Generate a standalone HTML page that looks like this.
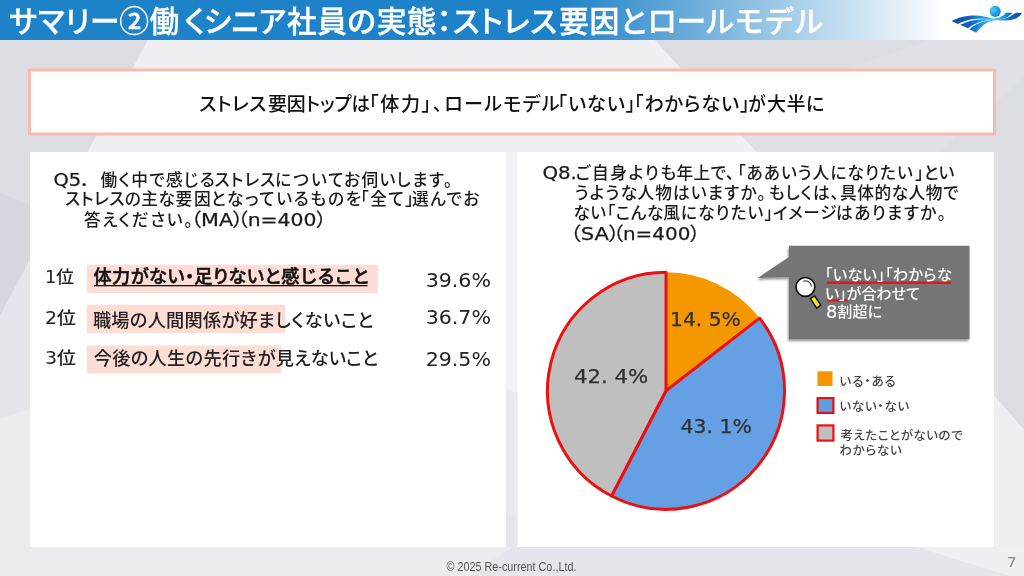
<!DOCTYPE html>
<html lang="ja">
<head>
<meta charset="utf-8">
<title>サマリー②働くシニア社員の実態：ストレス要因とロールモデル</title>
<style>
html,body{margin:0;padding:0;background:#e8e7ed;}
body{width:1024px;height:576px;overflow:hidden;position:relative;}
svg{position:absolute;left:0;top:0;display:block;}
text,tspan{font-family:"Liberation Sans","Noto Sans CJK JP",sans-serif;font-feature-settings:"palt" 1;font-kerning:normal;white-space:pre;}
.lat{font-family:"DejaVu Sans","Liberation Sans","Noto Sans CJK JP",sans-serif;}
.title{font-size:29.8px;font-weight:500;fill:#fff;stroke:#fff;stroke-width:0.35px;}
.sub{font-size:19.1px;font-weight:500;fill:#111;}
.q{font-size:16.7px;font-weight:500;fill:#1a1a1a;}
.ql{font-size:18.4px;font-weight:400;fill:#1a1a1a;stroke:#1a1a1a;stroke-width:0.25px;}
.rank{font-size:17.5px;font-weight:500;fill:#222;}
.row{font-size:18.2px;font-weight:500;fill:#222;}
.rowb{font-size:18.2px;fill:#111;font-weight:500;stroke:#111;stroke-width:0.5px;}
.pct{font-size:20px;fill:#222;}
.pie{font-size:19.8px;fill:#303030;stroke:#303030;stroke-width:0.25px;}
.call{font-size:15.2px;font-weight:500;fill:#fff;}
.leg{font-size:12.4px;font-weight:500;fill:#444;}
.foot{font-size:12.6px;fill:#555;font-feature-settings:normal;}
.pg{font-size:14px;fill:#888;}
.call8{font-size:17px;fill:#fff;stroke:#fff;stroke-width:0.2px;}

</style>
</head>
<body>
<svg width="1024" height="576" viewBox="0 0 1024 576">
<defs>
<linearGradient id="hd" gradientUnits="userSpaceOnUse" x1="0" y1="0" x2="1024" y2="0">
<stop offset="0" stop-color="#1e82c8"/>
<stop offset="0.547" stop-color="#1e82c8"/>
<stop offset="0.923" stop-color="#ffffff"/>
<stop offset="1" stop-color="#ffffff"/>
</linearGradient>
<linearGradient id="lg1" gradientUnits="userSpaceOnUse" x1="100" y1="0" x2="995" y2="0">
<stop offset="0" stop-color="#0a4fb0"/>
<stop offset="0.25" stop-color="#0e62c0"/>
<stop offset="0.47" stop-color="#2aa6e8"/>
<stop offset="0.6" stop-color="#45c6f4"/>
<stop offset="0.72" stop-color="#2aa0e4"/>
<stop offset="0.86" stop-color="#0e60bf"/>
<stop offset="1" stop-color="#0a4fb0"/>
</linearGradient>
<radialGradient id="ball" cx="0.3" cy="0.35" r="0.8">
<stop offset="0" stop-color="#4fcaf3"/>
<stop offset="0.5" stop-color="#22a6e6"/>
<stop offset="1" stop-color="#0a80d4"/>
</radialGradient>
<filter id="sh" x="-10%" y="-10%" width="125%" height="130%">
<feGaussianBlur in="SourceAlpha" stdDeviation="1.3"/>
<feOffset dx="-1.3" dy="2"/>
<feComponentTransfer><feFuncA type="linear" slope="0.4"/></feComponentTransfer>
<feMerge><feMergeNode/><feMergeNode in="SourceGraphic"/></feMerge>
</filter>
</defs>

<!-- background -->
<rect x="0" y="0" width="1024" height="576" fill="#e6e5eb"/>
<polygon points="0,40 148,40 0,315" fill="#dcdde3"/>
<polygon points="0,193 30,204.5 30,259 0,315" fill="#d6d7df"/>
<polygon points="148,40 655,40 770,160 83,160" fill="#f0eff3"/>
<polygon points="655,40 1024,40 1024,430 994,395 994,152 757,152" fill="#dcdde3"/>
<polygon points="994,395 1024,430 1024,576 994,576" fill="#efeef2"/>
<polygon points="0,419 30,409 30,547 1024,547 1024,576 0,576" fill="#ecebf0"/>
<polygon points="512,547 917,547 1010,576 470,576" fill="#e6e5eb"/>
<polygon points="917,547 1024,547 1024,576 1010,576" fill="#f0eff3"/>
<polygon points="931,40 1024,40 1024,77.5 938,152 757,152 720,111.3" fill="#e0e0e6"/>
<polygon points="994,152 998.5,152 998.5,400 994,395" fill="#e0e0e7"/>

<rect x="505" y="152" width="13.5" height="240" fill="#f2f1f5"/>
<polygon points="505,388 518.5,394 518.5,515 505,515" fill="#eae9ee"/>
<rect x="505" y="515" width="13.5" height="32" fill="#e6e5eb"/>

<!-- header -->
<rect x="0" y="0" width="1024" height="40" fill="url(#hd)"/>

<!-- logo -->
<g id="logo" transform="translate(944,0) scale(0.078125)">
<circle cx="655" cy="145" r="71" fill="url(#ball)"/>
<g fill="url(#lg1)">
<path d="M98,268 C200,212 330,192 420,198 C500,204 560,222 620,236 L620,250 C560,246 480,236 420,240 C330,246 250,270 176,308 Z"/>
<path d="M208,316 C290,274 380,252 460,248 C520,246 570,248 620,246 L620,256 C570,258 520,264 480,276 C410,298 352,328 305,360 Z"/>
<path d="M326,374 C380,322 450,292 510,276 C560,264 600,258 640,250 L655,260 C615,266 580,274 550,292 C495,322 450,368 412,420 Z"/>
<path d="M620,236 C680,238 720,222 750,202 C770,188 780,176 790,164 L878,164 C856,180 840,198 820,214 C785,238 720,254 655,260 L620,256 Z"/>
<path d="M700,250 C780,246 830,222 870,196 C895,178 910,170 922,163 L998,166 C978,196 952,226 902,244 C852,260 780,266 700,262 Z"/>
</g>
</g>

<!-- summary box -->
<rect x="29.5" y="70" width="965" height="64" fill="#ffffff" stroke="#f8bcae" stroke-width="3"/>

<!-- panels -->
<rect x="30" y="152" width="476" height="395" fill="#ffffff"/>
<rect x="517.5" y="152" width="476.5" height="395" fill="#ffffff"/>

<!-- ranking bars -->
<rect x="86.7" y="264.7" width="291.3" height="28.3" fill="#fdddd5"/>
<rect x="86.7" y="304.7" width="198.5" height="28.3" fill="#fdddd5"/>
<rect x="86.7" y="345.5" width="194.5" height="28" fill="#fdddd5"/>
<rect x="94" y="285" width="273.5" height="1.3" fill="#111"/>

<!-- pie -->
<g id="pie">
<path d="M666,390.8 L666.00,272.30 A118.5,118.5 0 0 1 759.63,318.17 Z" fill="#f59800"/>
<path d="M666,390.8 L759.63,318.17 A118.5,118.5 0 0 1 611.54,496.04 Z" fill="#66a0e4" stroke="#ee1010" stroke-width="3" stroke-linejoin="round"/>
<path d="M666,390.8 L611.54,496.04 A118.5,118.5 0 0 1 666.00,272.30 Z" fill="#bfbfbf" stroke="#ee1010" stroke-width="3" stroke-linejoin="round"/>
</g>

<!-- callout -->
<g filter="url(#sh)">
<path d="M789,245.7 H969.5 V339.2 H789 V277.2 L757.8,277.9 L789,256.9 Z" fill="#757575"/>
</g>
<g id="mag">
<path d="M810.4,298.6 L814.6,295.9 L820.8,305.2 L816.6,308.1 Z" fill="#f5e616" stroke="#111" stroke-width="1.5" stroke-linejoin="round"/>
<circle cx="805.4" cy="286.9" r="9.4" fill="#ffffff" stroke="#111" stroke-width="1.7"/>
<path d="M803.4,281.2 A6.2,6.2 0 0 1 811.4,286.2" fill="none" stroke="#444" stroke-width="1.1" stroke-linecap="round"/>
</g>
<rect x="826.9" y="281.5" width="124" height="2.4" fill="#e8101c"/>
<rect x="826.9" y="299.2" width="20.8" height="2.4" fill="#e8101c"/>

<!-- legend -->
<rect x="817.5" y="371.3" width="15" height="14.7" fill="#f59800"/>
<rect x="817.6" y="398.1" width="15.8" height="14.8" fill="#5ea0dc" stroke="#e01218" stroke-width="2.2"/>
<rect x="817.6" y="425.4" width="15.8" height="15.2" fill="#bfbfbf" stroke="#ee1111" stroke-width="2.2"/>

<!-- texts -->
<text><tspan class="title" x="9.2" y="32.3" textLength="110.3" lengthAdjust="spacing">サマリー</tspan><tspan class="title" x="119.3" y="32.3" textLength="31.0" lengthAdjust="spacing">②</tspan><tspan class="title" x="149.6" y="32.3" textLength="55.5" lengthAdjust="spacing">働く</tspan><tspan class="title" x="203.9" y="32.3" textLength="82.2" lengthAdjust="spacingAndGlyphs">シニア</tspan><tspan class="title" x="287.1" y="32.3" textLength="88.9" lengthAdjust="spacing">社員の</tspan><tspan class="title" x="376.8" y="32.3" textLength="74.9" lengthAdjust="spacing">実態：</tspan><tspan class="title" x="452.8" y="32.3" textLength="104.2" lengthAdjust="spacing">ストレス</tspan><tspan class="title" x="559.0" y="32.3" textLength="87.5" lengthAdjust="spacing">要因と</tspan><tspan class="title" x="647.6" y="32.3" textLength="86.5" lengthAdjust="spacing">ロール</tspan><tspan class="title" x="735.3" y="32.3" textLength="87.7" lengthAdjust="spacing">モデル</tspan></text>
<text><tspan class="sub" x="199.2" y="111.1" textLength="67.3" lengthAdjust="spacing">ストレス</tspan><tspan class="sub" x="267.9" y="111.1" textLength="37.8" lengthAdjust="spacingAndGlyphs">要因</tspan><tspan class="sub" x="305.8" y="111.1" textLength="64.3" lengthAdjust="spacingAndGlyphs">トップは</tspan><tspan class="sub" x="369.0" y="111.1" textLength="73.4" lengthAdjust="spacing">「体力」、</tspan><tspan class="sub" x="444.4" y="111.1" textLength="115.2" lengthAdjust="spacing">ロールモデル</tspan><tspan class="sub" x="557.5" y="111.1" textLength="77.9" lengthAdjust="spacing">「いない」</tspan><tspan class="sub" x="634.0" y="111.1" textLength="115.7" lengthAdjust="spacing">「わからない」</tspan><tspan class="sub" x="748.2" y="111.1" textLength="17.3" lengthAdjust="spacingAndGlyphs">が</tspan><tspan class="sub" x="767.0" y="111.1" textLength="57.4" lengthAdjust="spacing">大半に</tspan></text>
<text><tspan class="ql lat" x="53.4" y="186.3" textLength="37.5" lengthAdjust="spacingAndGlyphs">Q5．</tspan><tspan class="q" x="100.6" y="185.6" textLength="114.1" lengthAdjust="spacing">働く中で感じる</tspan><tspan class="q" x="214.6" y="185.6" textLength="60.6" lengthAdjust="spacing">ストレス</tspan><tspan class="q" x="275.1" y="185.6" textLength="68.5" lengthAdjust="spacing">について</tspan><tspan class="q" x="344.0" y="185.6" textLength="108.1" lengthAdjust="spacing">お伺いします。</tspan></text>
<text><tspan class="q" x="65.2" y="205.2" textLength="109.7" lengthAdjust="spacing">ストレスの主な</tspan><tspan class="q" x="175.6" y="205.2" textLength="35.2" lengthAdjust="spacing">要因</tspan><tspan class="q" x="211.0" y="205.2" textLength="150.2" lengthAdjust="spacing">となっているものを</tspan><tspan class="q" x="360.2" y="205.2" textLength="53.5" lengthAdjust="spacing">「全て」</tspan><tspan class="q" x="412.0" y="205.2" textLength="67.3" lengthAdjust="spacing">選んでお</tspan></text>
<text><tspan class="q" x="84.0" y="225.9" textLength="108.6" lengthAdjust="spacing">答えください。</tspan><tspan class="ql lat" x="190.6" y="226.4" textLength="52.9" lengthAdjust="spacingAndGlyphs">（MA）</tspan><tspan class="ql lat" x="237.5" y="226.4" textLength="89.1" lengthAdjust="spacingAndGlyphs">（n=400）</tspan></text>
<text><tspan class="rank lat" x="45.0" y="282.9" textLength="29.1" lengthAdjust="spacingAndGlyphs">1位</tspan></text>
<text><tspan class="rank lat" x="44.9" y="323.9" textLength="31.0" lengthAdjust="spacingAndGlyphs">2位</tspan></text>
<text><tspan class="rank lat" x="44.9" y="364.4" textLength="31.0" lengthAdjust="spacingAndGlyphs">3位</tspan></text>
<text><tspan class="rowb" x="93.4" y="283" textLength="100.7" lengthAdjust="spacing">体力がない・</tspan><tspan class="rowb" x="194.3" y="283" textLength="86.2" lengthAdjust="spacing">足りないと</tspan><tspan class="rowb" x="281.2" y="283" textLength="87.3" lengthAdjust="spacing">感じること</tspan></text>
<text><tspan class="row" x="92.9" y="327.25" textLength="164.9" lengthAdjust="spacing">職場の人間関係が好</tspan><tspan class="row" x="258.0" y="327.25" textLength="115.4" lengthAdjust="spacing">ましくないこと</tspan></text>
<text><tspan class="row" x="93.7" y="364.6" textLength="162.7" lengthAdjust="spacing">今後の人生の先行き</tspan><tspan class="row" x="257.8" y="364.6" textLength="120.2" lengthAdjust="spacing">が見えないこと</tspan></text>
<text><tspan class="pct lat" x="425.7" y="287.2" textLength="65.2" lengthAdjust="spacingAndGlyphs">39.6%</tspan></text>
<text><tspan class="pct lat" x="425.7" y="324.3" textLength="65.2" lengthAdjust="spacingAndGlyphs">36.7%</tspan></text>
<text><tspan class="pct lat" x="425.7" y="365.6" textLength="65.2" lengthAdjust="spacingAndGlyphs">29.5%</tspan></text>
<text><tspan class="ql lat" x="542.4" y="179.3" textLength="34.5" lengthAdjust="spacingAndGlyphs">Q8.</tspan><tspan class="q" x="575.5" y="179" textLength="100.6" lengthAdjust="spacing">ご自身よりも</tspan><tspan class="q" x="676.5" y="179" textLength="57.7" lengthAdjust="spacing">年上で、</tspan><tspan class="q" x="737.2" y="179" textLength="74.4" lengthAdjust="spacing">「ああいう</tspan><tspan class="q" x="812.6" y="179" textLength="100.1" lengthAdjust="spacing">人になりたい</tspan><tspan class="q" x="915.3" y="179" textLength="39.0" lengthAdjust="spacing">」とい</tspan></text>
<text><tspan class="q" x="574.7" y="198.8" textLength="62.3" lengthAdjust="spacing">うような</tspan><tspan class="q" x="637.4" y="198.8" textLength="128.3" lengthAdjust="spacing">人物はいますか。</tspan><tspan class="q" x="768.8" y="198.8" textLength="70.2" lengthAdjust="spacing">もしくは、</tspan><tspan class="q" x="840.0" y="198.8" textLength="118.4" lengthAdjust="spacing">具体的な人物で</tspan></text>
<text><tspan class="q" x="573.4" y="219.1" textLength="89.9" lengthAdjust="spacing">ない「こんな</tspan><tspan class="q" x="663.2" y="219.1" textLength="109.6" lengthAdjust="spacing">風になりたい」</tspan><tspan class="q" x="772.8" y="219.1" textLength="63.7" lengthAdjust="spacing">イメージ</tspan><tspan class="q" x="836.0" y="219.1" textLength="110.0" lengthAdjust="spacing">はありますか。</tspan></text>
<text><tspan class="ql lat" x="570.2" y="240" textLength="49.4" lengthAdjust="spacingAndGlyphs">（SA）</tspan><tspan class="ql lat" x="613.0" y="240" textLength="87.3" lengthAdjust="spacingAndGlyphs">（n=400）</tspan></text>
<text><tspan class="pie lat" x="670.0" y="325.6" textLength="70.8" lengthAdjust="spacingAndGlyphs">14. 5%</tspan></text>
<text><tspan class="pie lat" x="574.0" y="382.7" textLength="74.3" lengthAdjust="spacingAndGlyphs">42. 4%</tspan></text>
<text><tspan class="pie lat" x="680.5" y="432.5" textLength="71.4" lengthAdjust="spacingAndGlyphs">43. 1%</tspan></text>
<text><tspan class="call" x="824.9" y="280.3" textLength="127.0" lengthAdjust="spacing">「いない」「わからな</tspan></text>
<text><tspan class="call" x="824.9" y="299.2" textLength="95.1" lengthAdjust="spacingAndGlyphs">い」が合わせて</tspan></text>
<text><tspan class="call8 lat" x="826.0" y="318.1" textLength="11.3" lengthAdjust="spacingAndGlyphs">8</tspan><tspan class="call" x="837.3" y="317.2" textLength="44.8" lengthAdjust="spacingAndGlyphs">割超に</tspan></text>
<text><tspan class="leg" x="839.5" y="385.5" textLength="56.3" lengthAdjust="spacing">いる・ある</tspan></text>
<text><tspan class="leg" x="839.5" y="411.3" textLength="69.6" lengthAdjust="spacing">いない・ない</tspan></text>
<text><tspan class="leg" x="840.5" y="440" textLength="122.1" lengthAdjust="spacing">考えたことがないので</tspan></text>
<text><tspan class="leg" x="839.5" y="455" textLength="62.1" lengthAdjust="spacing">わからない</tspan></text>
<text><tspan class="foot" x="446.6" y="570.5" textLength="129.8" lengthAdjust="spacingAndGlyphs">© 2025 Re-current Co.,Ltd.</tspan></text>
<text><tspan class="pg lat" x="1006.7" y="566.7" textLength="10.0" lengthAdjust="spacingAndGlyphs">7</tspan></text>
</svg>
</body>
</html>
